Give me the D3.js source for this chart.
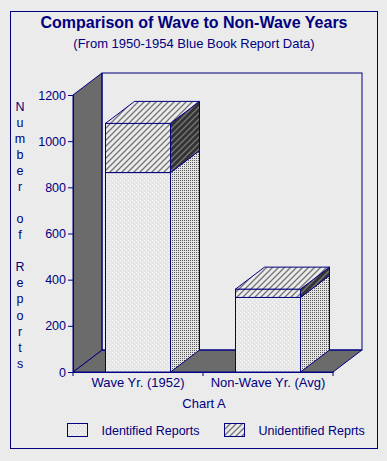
<!DOCTYPE html>
<html><head><meta charset="utf-8">
<script src="https://cdn.jsdelivr.net/npm/d3@7"></script>
<style>
html,body{margin:0;padding:0;background:#ebebeb;}
svg{display:block;font-family:Arial,"Liberation Sans",sans-serif;}
</style></head>
<body>
<script>
const categories = ["Wave Yr. (1952)", "Non-Wave Yr. (Avg)"];
const identified = [864, 323];
const unidentified = [213, 36];
const seriesNames = ["Identified Reports", "Unidentified Reprts"];
const yTicks = [0, 200, 400, 600, 800, 1000, 1200];
const yLabel = "Number of Reports";
const title = "Comparison of Wave to Non-Wave Years";
const subtitle = "(From 1950-1954 Blue Book Report Data)";
const xTitle = "Chart A";

const W = 387, H = 461;
const navy = "#000080";
const FF = "Arial, 'Liberation Sans', sans-serif";
const svg = d3.select("body").append("svg").attr("width", W).attr("height", H);
svg.append("rect").attr("width", W).attr("height", H).attr("fill", "#ebebeb");

const defs = svg.append("defs");
let p = defs.append("pattern").attr("id", "dotLight").attr("patternUnits", "userSpaceOnUse").attr("width", 4).attr("height", 4);
p.append("rect").attr("width", 4).attr("height", 4).attr("fill", "#e6e6e6");
p.append("rect").attr("x", 0).attr("y", 0).attr("width", 1).attr("height", 1).attr("fill", "#fbfbfb");
p.append("rect").attr("x", 2).attr("y", 2).attr("width", 1).attr("height", 1).attr("fill", "#fbfbfb");
p = defs.append("pattern").attr("id", "dotDark").attr("patternUnits", "userSpaceOnUse").attr("width", 2).attr("height", 2);
p.append("rect").attr("width", 2).attr("height", 2).attr("fill", "#e4e4e4");
p.append("rect").attr("x", 0).attr("y", 0).attr("width", 1).attr("height", 1).attr("fill", "#5a5a5a");
p = defs.append("pattern").attr("id", "hatchLight").attr("patternUnits", "userSpaceOnUse").attr("width", 6).attr("height", 6);
p.append("rect").attr("width", 6).attr("height", 6).attr("fill", "#ebebeb");
p.append("path").attr("d", "M-1,7 L7,-1 M-4,4 L4,-4 M2,10 L10,2").attr("stroke", "#737373").attr("stroke-width", 1.3);
p = defs.append("pattern").attr("id", "hatchDark").attr("patternUnits", "userSpaceOnUse").attr("width", 6).attr("height", 6);
p.append("rect").attr("width", 6).attr("height", 6).attr("fill", "#333333");
p.append("path").attr("d", "M-1,7 L7,-1 M-4,4 L4,-4 M2,10 L10,2").attr("stroke", "#777777").attr("stroke-width", 1.3);

svg.append("rect").attr("x", 10.5).attr("y", 11.5).attr("width", 367).attr("height", 437)
  .attr("fill", "none").attr("stroke", navy).attr("stroke-width", 1);

svg.append("text").attr("x", 194).attr("y", 28).attr("text-anchor", "middle")
  .attr("font-size", 16).attr("font-weight", "bold").attr("fill", navy).text(title);
svg.append("text").attr("x", 194).attr("y", 48).attr("text-anchor", "middle")
  .attr("font-size", 13).attr("fill", navy).text(subtitle);

const x = d3.scaleBand().domain(categories).range([73, 333]).paddingInner(0.5).paddingOuter(0.25);
const y = d3.scaleLinear().domain([0, 1200]).range([372, 95]);
const dx = 29, dy = -22;
const x0 = x.range()[0], x1 = x.range()[1];
const y0 = y(0), yTop = y(1200);
const line = d3.line();

svg.append("path").attr("d", line([[x0, y0], [x0 + dx, y0 + dy], [x1 + dx, y0 + dy], [x1, y0]]) + "Z")
  .attr("fill", "#6b6b6b").attr("stroke", navy).attr("stroke-width", 1);
svg.append("path").attr("d", line([[x0, y0], [x0, yTop], [x0 + dx, yTop + dy], [x0 + dx, y0 + dy]]) + "Z")
  .attr("fill", "#6b6b6b").attr("stroke", navy).attr("stroke-width", 1);
svg.append("rect").attr("x", x0 + dx).attr("y", yTop + dy).attr("width", x1 - x0).attr("height", y0 - yTop)
  .attr("fill", "none").attr("stroke", navy).attr("stroke-width", 1);

const stacks = categories.map((c, i) => {
  const segs = [
    { v0: 0, v1: identified[i], front: "url(#dotLight)", side: "url(#dotDark)" },
    { v0: identified[i], v1: identified[i] + unidentified[i], front: "url(#hatchLight)", side: "url(#hatchDark)" }
  ];
  return { c, segs };
});
const barsG = svg.append("g");
stacks.forEach(st => {
  const bx0 = x(st.c), bx1 = x(st.c) + x.bandwidth();
  const g = barsG.append("g");
  st.segs.forEach((s, k) => {
    const ya = y(s.v0), yb = y(s.v1);
    g.append("rect").attr("x", bx0).attr("y", yb).attr("width", bx1 - bx0).attr("height", ya - yb)
      .attr("fill", s.front).attr("stroke", navy).attr("stroke-width", 1);
    g.append("path").attr("d", line([[bx1, ya], [bx1 + dx, ya + dy], [bx1 + dx, yb + dy], [bx1, yb]]) + "Z")
      .attr("fill", s.side).attr("stroke", navy).attr("stroke-width", 1);
    if (k === st.segs.length - 1) {
      g.append("path").attr("d", line([[bx0, yb], [bx0 + dx, yb + dy], [bx1 + dx, yb + dy], [bx1, yb]]) + "Z")
        .attr("fill", "url(#hatchLight)").attr("stroke", navy).attr("stroke-width", 1);
    }
  });
});

const yAxis = d3.axisLeft(y).tickValues(yTicks).tickFormat(d3.format("d")).tickSize(5).tickSizeOuter(0).tickPadding(2);
const yg = svg.append("g").attr("transform", `translate(${x0},0)`).call(yAxis);
yg.select(".domain").attr("stroke", navy);
yg.selectAll(".tick line").attr("stroke", navy);
yg.selectAll(".tick text").attr("fill", navy).attr("font-size", 12.5).attr("font-family", FF);

const xAxis = d3.axisBottom(x).tickSize(0).tickPadding(6);
const xg = svg.append("g").attr("transform", `translate(0,${y0})`).call(xAxis);
xg.select(".domain").attr("stroke", navy);
xg.selectAll(".tick text").attr("fill", navy).attr("font-size", 13).attr("font-family", FF);
const xTickPos = [x0].concat(categories.map(c => x(c) + x.bandwidth() + x.step() * x.paddingOuter()));
svg.append("g").selectAll("line").data(xTickPos).join("line")
  .attr("x1", d => d).attr("x2", d => d).attr("y1", y0).attr("y2", y0 + 4)
  .attr("stroke", navy);

svg.append("text").attr("x", 204).attr("y", 408).attr("text-anchor", "middle")
  .attr("font-size", 13).attr("fill", navy).text(xTitle);

svg.append("g").selectAll("text").data(yLabel.split("")).join("text")
  .attr("x", 20).attr("y", (d, i) => 111 + i * 16.04).attr("text-anchor", "middle")
  .attr("font-size", 12.5).attr("fill", navy).text(d => d);

const legX = [67.5, 224.5];
const legFill = ["url(#dotLight)", "url(#hatchLight)"];
seriesNames.forEach((n, i) => {
  svg.append("rect").attr("x", legX[i]).attr("y", 423.5).attr("width", 20).attr("height", 13)
    .attr("fill", legFill[i]).attr("stroke", navy).attr("stroke-width", 1);
  svg.append("text").attr("x", legX[i] + 34).attr("y", 435).attr("font-size", 12.5).attr("fill", navy).text(n);
});
</script>
</body></html>
